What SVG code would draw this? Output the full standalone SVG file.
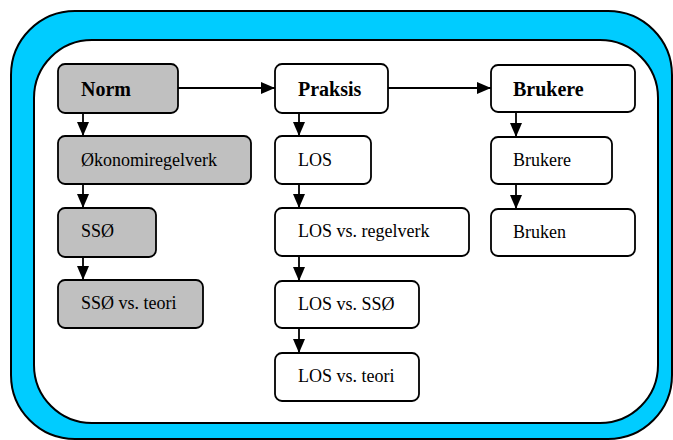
<svg xmlns="http://www.w3.org/2000/svg" width="673" height="440" viewBox="0 0 673 440">
  <style>
    .frame-outer { fill: #00CCFF; stroke: #000; stroke-width: 2; }
    .frame-inner { fill: #fff; stroke: #000; stroke-width: 2; }
    .box { fill: #fff; stroke: #000; stroke-width: 1.8; }
    .box.grey { fill: #C0C0C0; }
    .head { font-family: "Liberation Serif", "Times New Roman", serif; font-size: 20px; font-weight: bold; fill: #000; }
    .item { font-family: "Liberation Serif", "Times New Roman", serif; font-size: 18px; fill: #000; }
    .link { stroke: #000; stroke-width: 1.8; fill: none; marker-end: url(#arrow); }
  </style>
  <defs>
    <marker id="arrow" viewBox="0 0 14 12" refX="14" refY="6" markerWidth="14" markerHeight="12" markerUnits="userSpaceOnUse" orient="auto">
      <path d="M0,0 L14,6 L0,12 Z" fill="#000"/>
    </marker>
  </defs>

  <!-- frame -->
  <rect class="frame-outer" x="11" y="11" width="661" height="428" rx="64" ry="64"/>
  <rect class="frame-inner" x="34" y="40" width="624" height="383" rx="58" ry="58"/>

  <!-- Norm column -->
  <g id="norm">
    <rect class="box grey" x="58" y="64" width="120" height="49" rx="7"/>
    <text class="head" x="81" y="96">Norm</text>
  </g>
  <g id="okonomiregelverk">
    <rect class="box grey" x="58" y="136" width="193" height="48" rx="7"/>
    <text class="item" x="81" y="166">Økonomiregelverk</text>
  </g>
  <g id="sso">
    <rect class="box grey" x="58" y="208" width="98" height="49" rx="7"/>
    <text class="item" x="81" y="237">SSØ</text>
  </g>
  <g id="sso-teori">
    <rect class="box grey" x="58" y="280" width="145" height="48" rx="7"/>
    <text class="item" x="81" y="309">SSØ vs. teori</text>
  </g>

  <!-- Praksis column -->
  <g id="praksis">
    <rect class="box" x="275" y="64" width="113" height="49" rx="7"/>
    <text class="head" x="298" y="96">Praksis</text>
  </g>
  <g id="los">
    <rect class="box" x="275" y="136" width="96" height="48" rx="7"/>
    <text class="item" x="298" y="166">LOS</text>
  </g>
  <g id="los-regelverk">
    <rect class="box" x="275" y="208" width="194" height="48" rx="7"/>
    <text class="item" x="298" y="237">LOS vs. regelverk</text>
  </g>
  <g id="los-sso">
    <rect class="box" x="275" y="281" width="144" height="47" rx="7"/>
    <text class="item" x="298" y="310">LOS vs. SSØ</text>
  </g>
  <g id="los-teori">
    <rect class="box" x="275" y="353" width="144" height="48" rx="7"/>
    <text class="item" x="298" y="382">LOS vs. teori</text>
  </g>

  <!-- Brukere column -->
  <g id="brukere-head">
    <rect class="box" x="491" y="65" width="144" height="47" rx="7"/>
    <text class="head" x="513" y="96">Brukere</text>
  </g>
  <g id="brukere">
    <rect class="box" x="491" y="137" width="121" height="47" rx="7"/>
    <text class="item" x="513" y="166">Brukere</text>
  </g>
  <g id="bruken">
    <rect class="box" x="491" y="209" width="144" height="47" rx="7"/>
    <text class="item" x="513" y="238">Bruken</text>
  </g>

  <!-- connectors -->
  <g id="connectors">
    <line class="link" x1="178" y1="88" x2="275" y2="88"/>
    <line class="link" x1="388" y1="88" x2="491" y2="88"/>
    <line class="link" x1="83" y1="113" x2="83" y2="136"/>
    <line class="link" x1="83" y1="184" x2="83" y2="208"/>
    <line class="link" x1="83" y1="257" x2="83" y2="280"/>
    <line class="link" x1="299" y1="113" x2="299" y2="136"/>
    <line class="link" x1="299" y1="184" x2="299" y2="208"/>
    <line class="link" x1="299" y1="256" x2="299" y2="281"/>
    <line class="link" x1="299" y1="328" x2="299" y2="353"/>
    <line class="link" x1="516" y1="112" x2="516" y2="137"/>
    <line class="link" x1="516" y1="184" x2="516" y2="209"/>
  </g>
</svg>
